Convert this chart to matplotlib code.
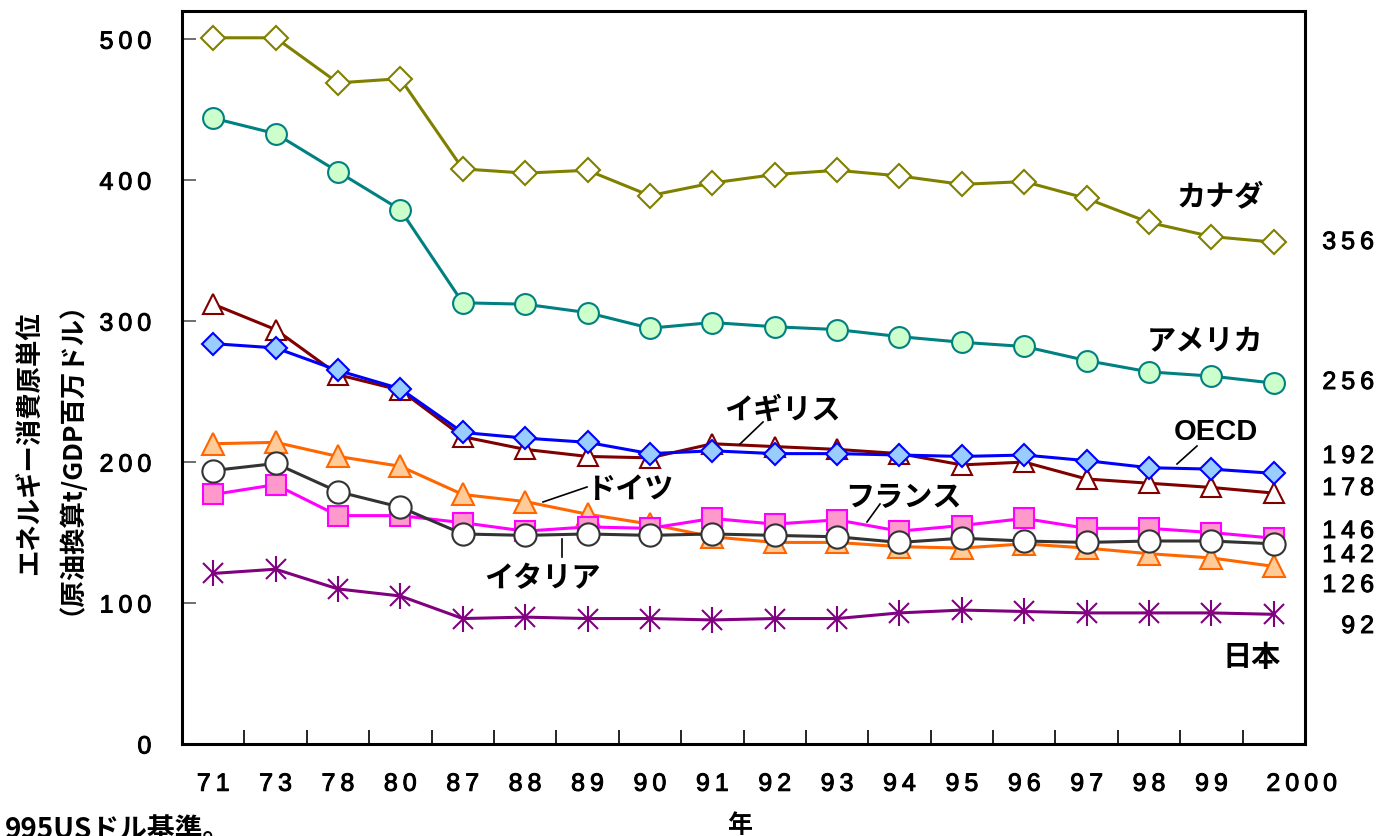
import matplotlib
matplotlib.use("Agg")
import matplotlib.pyplot as plt
import matplotlib.transforms as mtransforms
import matplotlib.patheffects as pe

TS = "\u2009"
years = ["71", "73", "78", "80", "87", "88", "89", "90", "91", "92", "93",
         "94", "95", "96", "97", "98", "99", "2000"]

canada = [501, 501, 469, 472, 408, 405, 407, 389, 398, 404, 407, 403, 397, 399, 387, 370, 360, 356]
usa = [444, 433, 406, 379, 313, 312, 306, 295, 299, 296, 294, 289, 285, 282, 272, 264, 261, 256]
uk = [312, 294, 262, 251, 218, 209, 204, 203, 213, 211, 209, 206, 198, 200, 188, 185, 182, 178]
oecd = [284, 281, 265, 252, 221, 217, 214, 206, 208, 206, 206, 205, 204, 205, 201, 196, 195, 192]
germany = [213, 214, 204, 197, 177, 172, 163, 156, 147, 143, 143, 140, 139, 142, 139, 135, 132, 126]
italy = [194, 199, 179, 168, 149, 148, 149, 148, 149, 148, 147, 143, 146, 144, 143, 144, 144, 142]
france = [177, 184, 162, 162, 157, 151, 154, 153, 160, 156, 159, 151, 155, 160, 153, 153, 150, 146]
japan = [121, 124, 110, 105, 89, 90, 89, 89, 88, 89, 89, 93, 95, 94, 93, 93, 93, 92]

end_labels = ["356", "256", "192", "178", "146", "142", "126", "92"]
yticks = [0, 100, 200, 300, 400, 500]

FAM = ["Liberation Sans", "Noto Sans CJK JP", "DejaVu Sans"]
JFAM = ["Noto Sans CJK JP", "Liberation Sans", "DejaVu Sans"]
heavy = [pe.withStroke(linewidth=0.7, foreground="black")]

fig = plt.figure(figsize=(13.79, 8.37), dpi=100)
ax = fig.add_axes([182/1379, 1-745/837, (1305-182)/1379, (745-12)/837])

x = list(range(len(years)))
lw = 2.2

ax.plot(x, canada, color="#808000", lw=lw, marker="D", ms=12, mfc="white", mec="#808000", mew=1.5, zorder=3)
ax.plot(x, usa, color="#008080", lw=lw, marker="o", ms=15, mfc="#CCFFCC", mec="#008080", mew=1.5, zorder=3)
ax.plot(x, uk, color="#800000", lw=lw, marker="^", ms=15, mfc="white", mec="#800000", mew=1.5, zorder=3)
ax.plot(x, oecd, color="#0000FF", lw=lw, marker="D", ms=11, mfc="#99CCFF", mec="#0000FF", mew=1.5, zorder=4)
ax.plot(x, germany, color="#FF6600", lw=lw, marker="^", ms=16, mfc="#FFCC99", mec="#FF6600", mew=1.5, zorder=3)
ax.plot(x, france, color="#FF00FF", lw=lw, marker="s", ms=14, mfc="#FF99CC", mec="#FF00FF", mew=1.5, zorder=3)
ax.plot(x, italy, color="#333333", lw=lw, marker="o", ms=16, mfc="white", mec="#333333", mew=1.5, zorder=4)
ax.plot(x, japan, color="#800080", lw=lw, marker="x", ms=14, mec="#800080", mew=1.5, zorder=3)
ax.plot(x, japan, ls="none", marker="|", ms=19, mec="#800080", mew=1.5, zorder=3)

ax.set_xlim(-0.5, len(years) - 0.5)
ax.set_ylim(0, 520)

for s in ax.spines.values():
    s.set_linewidth(2.2)
    s.set_color("black")

ax.set_yticks(yticks)
ax.set_yticklabels([TS.join(str(v)) for v in yticks], fontsize=18, family=FAM)
ax.tick_params(axis="y", direction="in", length=10, width=1.2, color="#555555", pad=22)

ax.set_xticks(x)
ax.set_xticklabels([TS.join(y) for y in years], fontsize=18, family=FAM)
ax.set_xticks([i - 0.5 for i in range(1, len(years))], minor=True)
ax.tick_params(axis="x", which="major", length=0, pad=20)
ax.tick_params(axis="x", which="minor", direction="in", length=10, width=1.2, color="black")
lbl = ax.get_xticklabels()[-1]
lbl.set_transform(lbl.get_transform() + mtransforms.ScaledTranslation(0.28, 0, fig.dpi_scale_trans))
for t in ax.get_xticklabels() + ax.get_yticklabels():
    t.set_path_effects(heavy)

# series labels
def lab(px, py, s, fam=JFAM, size=21):
    fig.text(px/1379, 1-py/837, s, fontsize=size, family=fam, fontweight="bold", ha="center", va="center")

lab(1220, 196, "カナダ")
lab(1205, 340, "アメリカ")
lab(782, 410, "イギリス")
lab(1216, 432, "OECD", fam=FAM, size=21)
lab(630, 489, "ドイツ")
lab(903, 497, "フランス")
lab(542, 578, "イタリア")
lab(1252, 657, "日本")

def leader(x0, y0, x1, y1):
    fig.add_artist(plt.Line2D([x0/1379, x1/1379], [1-y0/837, 1-y1/837], color="black", lw=1.2))

leader(740, 445, 763, 423)
leader(1177, 465, 1197, 447)
leader(543, 503, 587, 488)
leader(562, 540, 562, 558)
leader(867, 523, 880, 505)

# right end labels (pixel rows of the reference layout)
end_rows = [243, 383, 457, 489, 532, 556, 586, 627]
for s, py in zip(end_labels, end_rows):
    t = fig.text(1374/1379, 1-py/837, TS.join(s), ha="right", va="center", fontsize=18, family=FAM)
    t.set_path_effects(heavy)

# y label
fig.text(30/1379, 1-443/837, "エネルギー消費原単位", rotation=90, fontsize=19,
         family=JFAM, fontweight="bold", ha="center", va="center")
fig.text(58/1379, 1-445/837, "（原油換算t/GDP百万ドル）", rotation=90, fontsize=19,
         family=JFAM, fontweight="bold", ha="center", va="center")

fig.text(740/1379, 1-826/837, "年", fontsize=18, family=JFAM, fontweight="bold", ha="center", va="center")
fig.text(5/1379, 1-830/837, "995USドル基準。", fontsize=20, family=JFAM, fontweight="bold", ha="left", va="center")

fig.savefig("out.png", dpi=100)
